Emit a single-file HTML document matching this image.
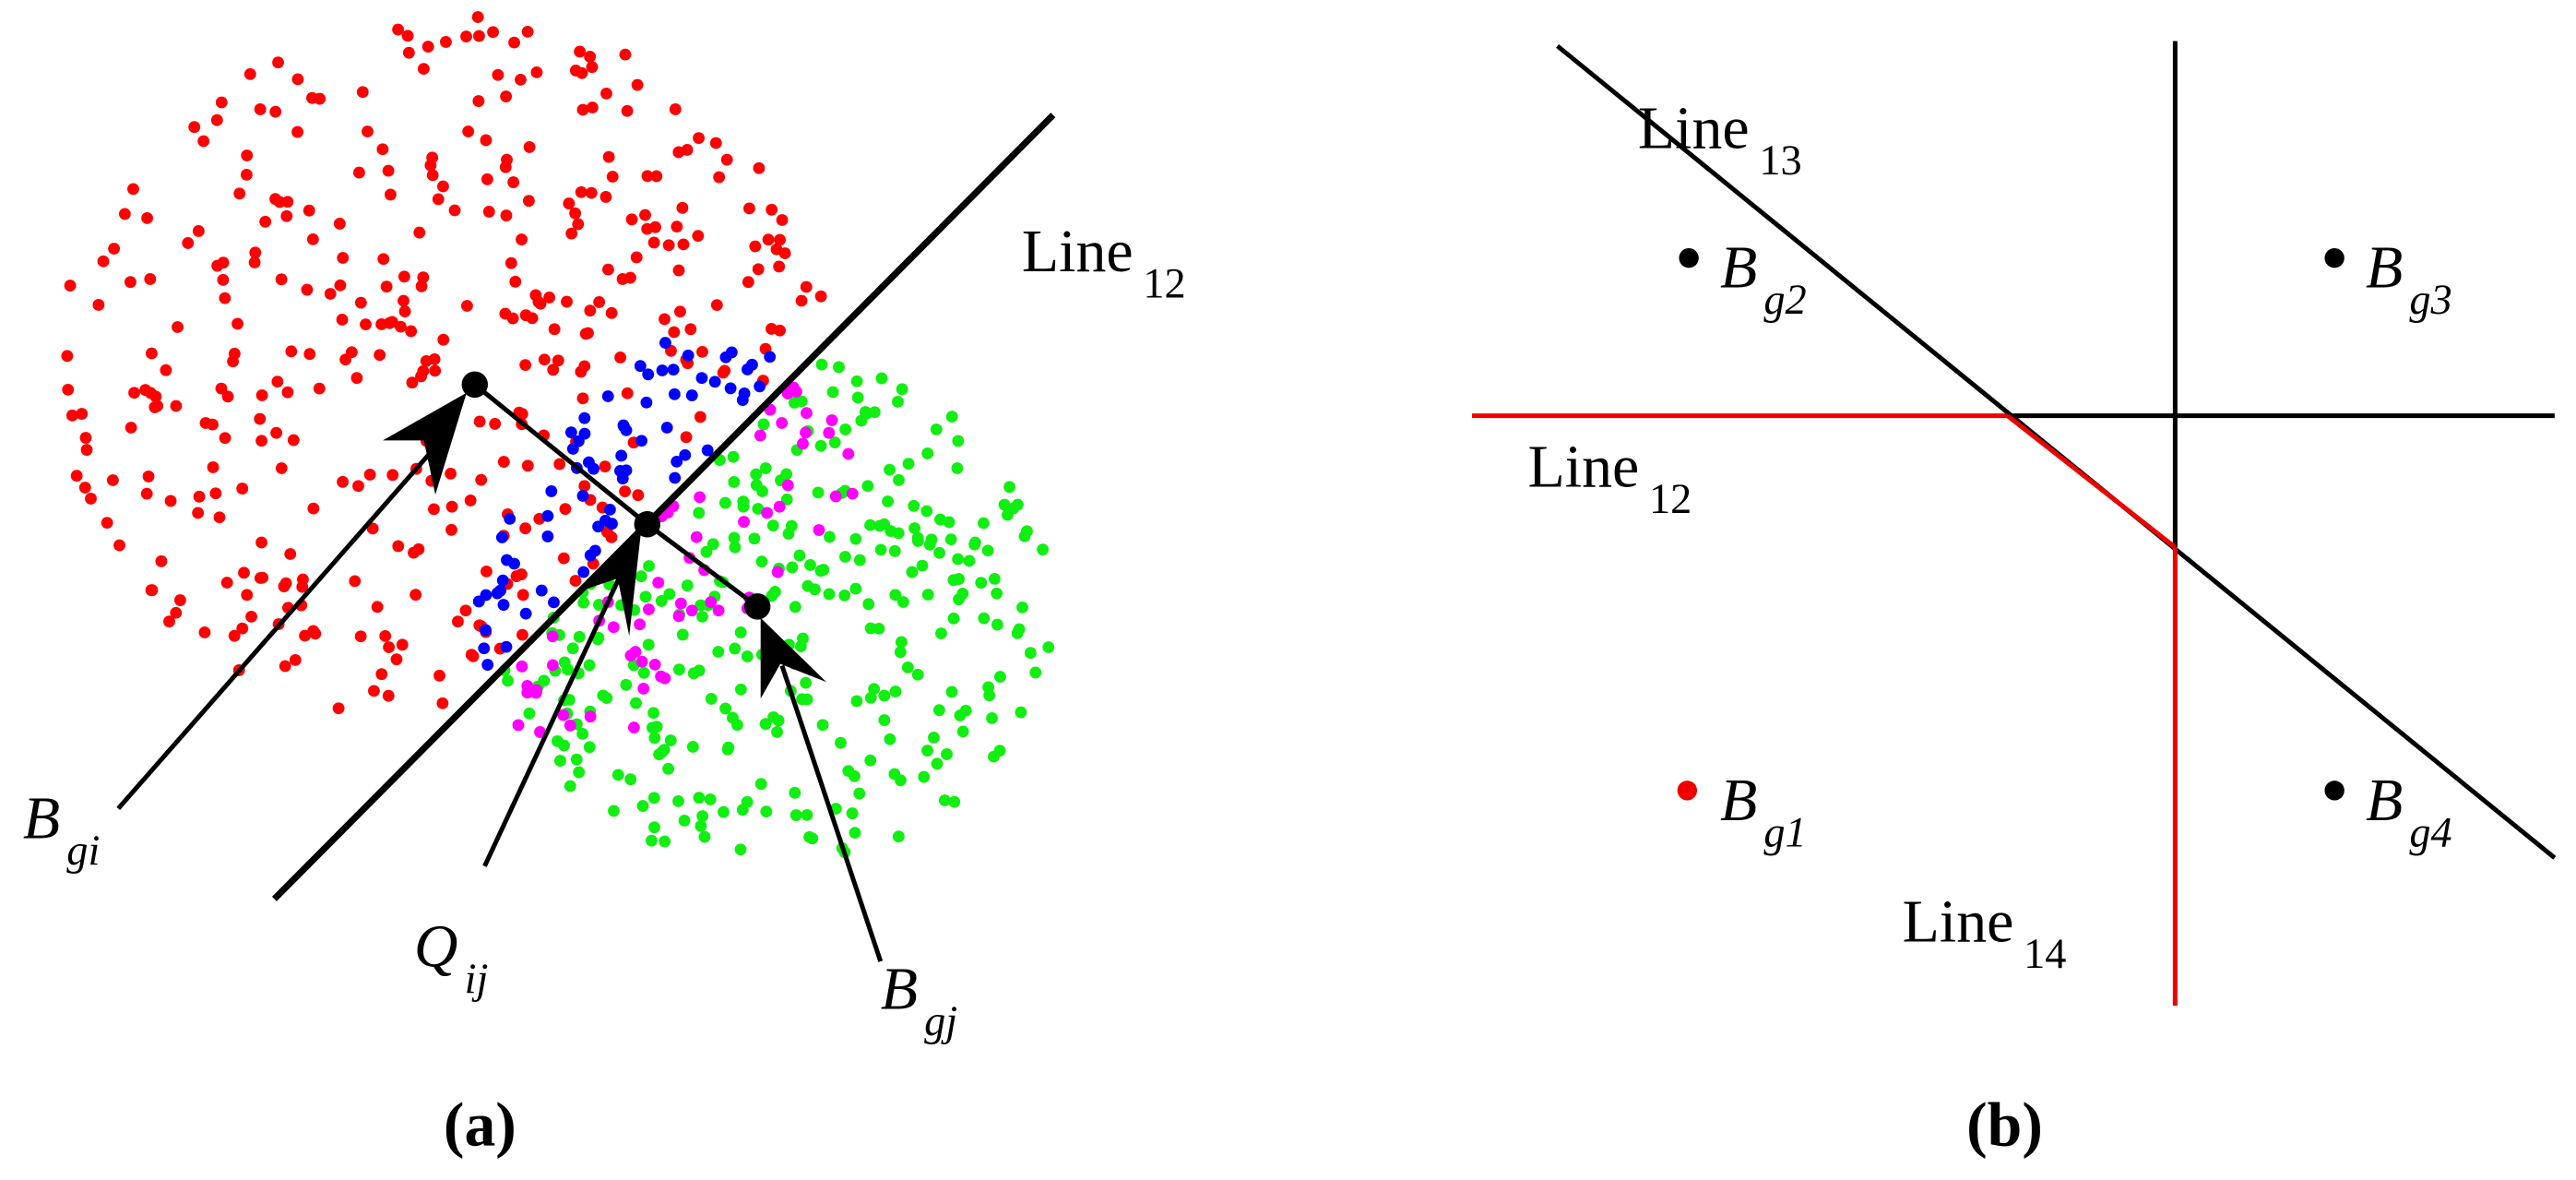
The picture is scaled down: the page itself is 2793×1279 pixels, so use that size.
<!DOCTYPE html>
<html><head><meta charset="utf-8"><style>
html,body{margin:0;padding:0;background:#fff;}
svg{display:block;}
text{font-family:"Liberation Serif",serif;fill:#000;}
</style></head><body>
<svg id="s" width="2793" height="1279" viewBox="0 0 1568 718" preserveAspectRatio="none" xmlns="http://www.w3.org/2000/svg">
<g id="dots"></g>
<!-- panel a -->
<line x1="167" y1="547" x2="641" y2="70" stroke="#000" stroke-width="4"/>
<polyline points="289,234 394,319 461,369" fill="none" stroke="#000" stroke-width="2.8"/>
<circle cx="289" cy="234" r="8" fill="#000"/>
<circle cx="394" cy="319" r="8" fill="#000"/>
<circle cx="461" cy="369" r="8" fill="#000"/>
<line x1="72" y1="492" x2="265" y2="272" stroke="#000" stroke-width="2.8"/>
<polygon points="284,239 233,268 258,268 265,301" fill="#000"/>
<line x1="295" y1="527" x2="380" y2="345" stroke="#000" stroke-width="2.8"/>
<polygon points="390,325 352,360 376,352 383,387" fill="#000"/>
<line x1="536" y1="585" x2="476" y2="405" stroke="#000" stroke-width="2.8"/>
<polygon points="463,376 463,425 475,404 503,415" fill="#000"/>
<text x="14" y="510" font-size="37" font-style="italic">B<tspan dx="4" dy="16" font-size="26">gi</tspan></text>
<text x="622" y="165" font-size="37">Line<tspan dx="6" dy="16" font-size="26">12</tspan></text>
<text x="252" y="588" font-size="37" font-style="italic">Q<tspan dx="4" dy="16" font-size="26">ij</tspan></text>
<text x="536" y="614" font-size="37" font-style="italic">B<tspan dx="4" dy="16" font-size="26">gj</tspan></text>
<text x="270" y="697" font-size="38" font-weight="bold">(a)</text>
<!-- panel b -->
<line x1="948" y1="28" x2="1555" y2="522" stroke="#000" stroke-width="2.8"/>
<line x1="1324" y1="25" x2="1324" y2="333" stroke="#000" stroke-width="2.8"/>
<line x1="1222" y1="253" x2="1555" y2="253" stroke="#000" stroke-width="2.8"/>
<line x1="896" y1="253" x2="1222" y2="253" stroke="#e00" stroke-width="2.8"/>
<line x1="1222" y1="253" x2="1324" y2="333" stroke="#e00" stroke-width="2.8"/>
<line x1="1324" y1="333" x2="1324" y2="612" stroke="#e00" stroke-width="2.8"/>
<circle cx="1028" cy="157" r="6" fill="#000"/>
<circle cx="1421" cy="157" r="6" fill="#000"/>
<circle cx="1027" cy="481" r="6" fill="#e00"/>
<circle cx="1421" cy="481" r="6" fill="#000"/>
<text x="997" y="90" font-size="37">Line<tspan dx="6" dy="16" font-size="26">13</tspan></text>
<text x="1047" y="175" font-size="37" font-style="italic">B<tspan dx="4" dy="16" font-size="26">g2</tspan></text>
<text x="1440" y="175" font-size="37" font-style="italic">B<tspan dx="4" dy="16" font-size="26">g3</tspan></text>
<text x="930" y="296" font-size="37">Line<tspan dx="6" dy="16" font-size="26">12</tspan></text>
<text x="1047" y="499" font-size="37" font-style="italic">B<tspan dx="4" dy="16" font-size="26">g1</tspan></text>
<text x="1440" y="499" font-size="37" font-style="italic">B<tspan dx="4" dy="16" font-size="26">g4</tspan></text>
<text x="1158" y="573" font-size="37">Line<tspan dx="6" dy="16" font-size="26">14</tspan></text>
<text x="1197" y="697" font-size="38" font-weight="bold">(b)</text>
</svg>
<script>
(function(){
var seed=12345;function r(){seed=(seed*1103515245+12345)%2147483648;return seed/2147483648;}
var g=document.getElementById('dots'),ns='http://www.w3.org/2000/svg';
function dot(x,y,c){var e=document.createElementNS(ns,'circle');e.setAttribute('cx',x.toFixed(1));e.setAttribute('cy',y.toFixed(1));e.setAttribute('r','3.6');e.setAttribute('fill',c);g.appendChild(e);}
var n=0;
while(n<370){var x=40+r()*470,y=8+r()*440;var dx=(x-270)/235,dy=(y-225)/220;if(dx*dx+dy*dy>1)continue;if(x+y>705)continue;dot(x,y,'#f00');n++;}
n=0;
while(n<300){var x=300+r()*340,y=218+r()*310;var dx=(x-470)/170,dy=(y-372)/155;if(dx*dx+dy*dy>1)continue;if(x+y<712)continue;dot(x,y,'#1e1');n++;}
n=0;
while(n<60){var x=300+r()*230,y=230+r()*220;var s=x+y;if(s<712||s>830)continue;if(x-y<-130||x-y>270)continue;dot(x,y,'#f0f');n++;}
n=0;
while(n<70){var x=290+r()*180,y=205+r()*220;var s=x+y;if(s<610||s>705)continue;if(x-y<-125||x-y>260)continue;dot(x,y,'#00f');n++;}
})();
</script>
</body></html>
